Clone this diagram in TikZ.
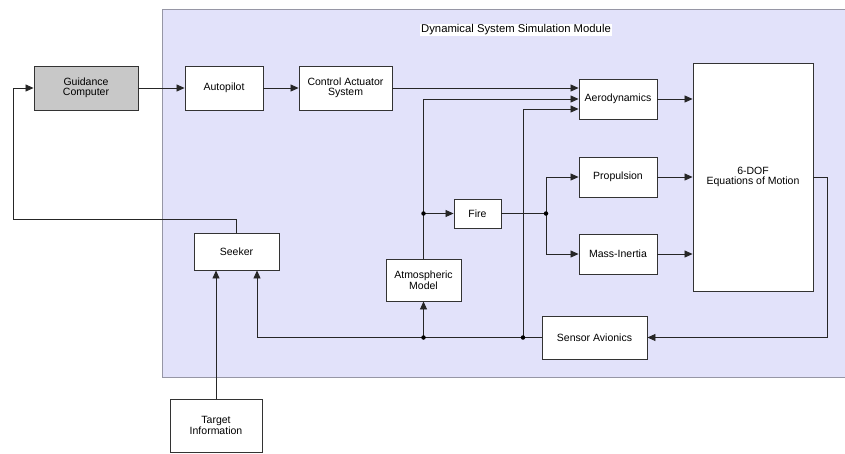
\documentclass[tikz,border=0pt]{standalone}
\usepackage{fontspec}
\setmainfont{Liberation Sans}
\usetikzlibrary{calc,arrows.meta,positioning,shadows}

\definecolor{modfill}{RGB}{226,226,250}
\definecolor{modline}{RGB}{150,150,165}
\definecolor{gcfill}{RGB}{200,200,200}

\tikzset{
  blk/.style={draw=black!80, line width=0.9pt, fill=white, align=center,
    inner sep=1pt, font=\fontsize{10.5}{10.5}\selectfont,
    drop shadow={shadow xshift=1.3pt, shadow yshift=-1.3pt, fill=black!45, opacity=.7}},
  sig/.style={line width=0.8pt, draw=black!85, -{Triangle[length=8pt,width=7pt]}},
  wire/.style={line width=0.8pt, draw=black!85},
  jdot/.style={fill=black, circle, inner sep=0pt, minimum size=4.5pt},
}

\begin{document}
\begin{tikzpicture}[x=1pt, y=-1pt]
  \useasboundingbox (0,0) rectangle (845,453);
  % module background
  \draw[modline, line width=1pt, fill=modfill] (162,9) rectangle (850,377);
  \node[fill=white, inner sep=1pt, font=\fontsize{11.3}{12}\selectfont] (title) at (516,30) {Dynamical System Simulation Module};

  \node[blk, fill=gcfill, minimum width=104pt, minimum height=44pt] (gc) at (86,88) {Guidance\\Computer};
  \node[blk, minimum width=78pt, minimum height=44pt] (ap) at (224,88) {Autopilot};
  \node[blk, minimum width=93pt, minimum height=44pt] (cas) at (345.5,88) {Control Actuator\\System};
  \node[blk, minimum width=78pt, minimum height=40pt] (aero) at (618,99) {Aerodynamics};
  \node[blk, minimum width=78pt, minimum height=40pt] (prop) at (618,177) {Propulsion};
  \node[blk, minimum width=78pt, minimum height=40pt] (mass) at (618,254) {Mass-Inertia};
  \node[blk, minimum width=120pt, minimum height=228pt] (eom) at (753,177) {6-DOF\\Equations of Motion};
  \node[blk, minimum width=47pt, minimum height=29pt] (fire) at (477.5,213.5) {Fire};
  \node[blk, minimum width=75pt, minimum height=42pt] (atm) at (423.5,280) {Atmospheric\\Model};
  \node[blk, minimum width=85pt, minimum height=37pt] (seek) at (236.5,251.5) {Seeker};
  \node[blk, minimum width=105pt, minimum height=43pt] (sens) at (594.5,337.5) {Sensor Avionics};
  \node[blk, minimum width=92pt, minimum height=53pt] (tgt) at (216,425.5) {Target\\Information};

  % branch points
  \coordinate (fb) at (13,219);
  \coordinate (j1) at (atm.north |- fire.west);
  \coordinate (j2) at (546,0 |- fire.east);
  \coordinate (j3) at (atm.south |- sens.west);
  \coordinate (j4) at (523,0 |- sens.west);
  \coordinate (eo) at (827,0 |- eom.east);

  \draw[sig] (gc) -- (ap);
  \draw[sig] (ap) -- (cas);
  \draw[sig] (cas.east) -- (cas.east -| aero.west);
  \draw[sig] (aero.east) -- (aero.east -| eom.west);
  \draw[sig] (prop) -- (prop -| eom.west);
  \draw[sig] (mass) -- (mass -| eom.west);

  \draw[sig] (seek.north) |- (fb) |- (gc.west);
  \draw[sig] (tgt.north) -- (tgt.north |- seek.south);

  \draw[sig] (atm.north) -- (j1) |- (aero.west);
  \draw[sig] (j1) -- (fire.west);
  \draw[wire] (fire.east) -- (j2);
  \draw[sig] (j2) |- (prop.west);
  \draw[sig] (j2) |- (mass.west);

  \draw[sig] (eom.east) -- (eo) |- (sens.east);
  \draw[sig] (sens.west) -- (j4) -- (j3) -| ([xshift=20.5pt]seek.south);
  \draw[sig] (j3) -- (atm.south);
  \draw[sig] (j4) |- ([yshift=-10pt]aero.west);

  \foreach \j in {j1,j2,j3,j4}
    \node[jdot] at (\j) {};
\end{tikzpicture}
\end{document}
